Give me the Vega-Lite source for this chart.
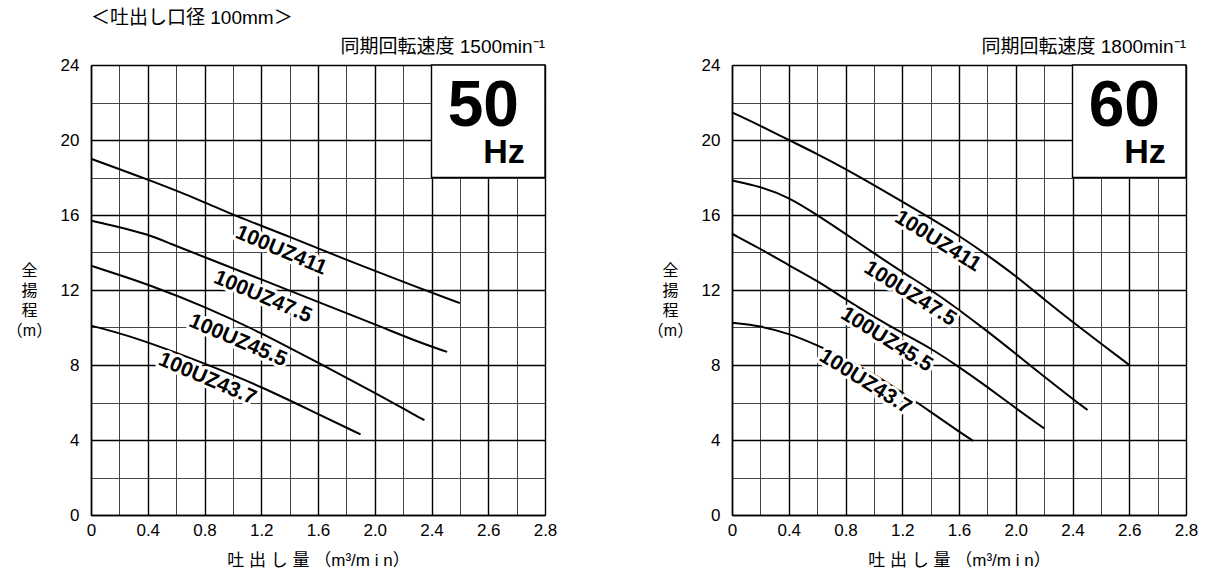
{
  "$schema": "https://vega.github.io/schema/vega-lite/v6.json",
  "background": "white",
  "padding": {"left": 6, "top": 9, "right": 5, "bottom": 5},
  "title": {"text": "＜吐出し口径  100mm＞", "anchor": "start", "frame": "group", "fontSize": 19, "fontWeight": "normal", "font": "Liberation Sans, Noto Sans CJK JP", "color": "black", "offset": 10},
  "spacing": 187,
  "bounds": "flush",
  "datasets": {
    "curves50": [
      {"model": "100UZ411", "q": 0, "h": 19.0}, {"model": "100UZ411", "q": 0.4, "h": 17.9}, {"model": "100UZ411", "q": 0.8, "h": 16.7}, {"model": "100UZ411", "q": 1.0, "h": 16.0}, {"model": "100UZ411", "q": 1.4, "h": 14.85}, {"model": "100UZ411", "q": 1.8, "h": 13.6}, {"model": "100UZ411", "q": 2.3, "h": 12.15}, {"model": "100UZ411", "q": 2.5, "h": 11.3},
      {"model": "100UZ47.5", "q": 0, "h": 15.7}, {"model": "100UZ47.5", "q": 0.2, "h": 15.36}, {"model": "100UZ47.5", "q": 0.4, "h": 14.97}, {"model": "100UZ47.5", "q": 0.55, "h": 14.5}, {"model": "100UZ47.5", "q": 0.8, "h": 13.75}, {"model": "100UZ47.5", "q": 1.2, "h": 12.57}, {"model": "100UZ47.5", "q": 1.6, "h": 11.36}, {"model": "100UZ47.5", "q": 2.0, "h": 10.18}, {"model": "100UZ47.5", "q": 2.3, "h": 9.24}, {"model": "100UZ47.5", "q": 2.455, "h": 8.7},
      {"model": "100UZ45.5", "q": 0, "h": 13.3}, {"model": "100UZ45.5", "q": 0.2, "h": 12.8}, {"model": "100UZ45.5", "q": 0.4, "h": 12.3}, {"model": "100UZ45.5", "q": 0.8, "h": 11.13}, {"model": "100UZ45.5", "q": 1.2, "h": 9.72}, {"model": "100UZ45.5", "q": 1.6, "h": 8.12}, {"model": "100UZ45.5", "q": 2.0, "h": 6.53}, {"model": "100UZ45.5", "q": 2.3, "h": 5.26}, {"model": "100UZ45.5", "q": 2.35, "h": 5.06},
      {"model": "100UZ43.7", "q": 0, "h": 10.1}, {"model": "100UZ43.7", "q": 0.2, "h": 9.7}, {"model": "100UZ43.7", "q": 0.4, "h": 9.22}, {"model": "100UZ43.7", "q": 0.8, "h": 8.09}, {"model": "100UZ43.7", "q": 1.2, "h": 6.85}, {"model": "100UZ43.7", "q": 1.6, "h": 5.38}, {"model": "100UZ43.7", "q": 1.9, "h": 4.3}
    ],
    "curves60": [
      {"model": "100UZ411", "q": 0, "h": 21.47}, {"model": "100UZ411", "q": 0.2, "h": 20.76}, {"model": "100UZ411", "q": 0.4, "h": 20.0}, {"model": "100UZ411", "q": 0.6, "h": 19.26}, {"model": "100UZ411", "q": 0.8, "h": 18.46}, {"model": "100UZ411", "q": 1.0, "h": 17.6}, {"model": "100UZ411", "q": 1.2, "h": 16.72}, {"model": "100UZ411", "q": 1.4, "h": 15.82}, {"model": "100UZ411", "q": 1.6, "h": 14.9}, {"model": "100UZ411", "q": 1.8, "h": 13.86}, {"model": "100UZ411", "q": 2.0, "h": 12.76}, {"model": "100UZ411", "q": 2.2, "h": 11.5}, {"model": "100UZ411", "q": 2.4, "h": 10.3}, {"model": "100UZ411", "q": 2.5, "h": 9.15}, {"model": "100UZ411", "q": 2.6, "h": 8.0},
      {"model": "100UZ47.5", "q": 0, "h": 17.84}, {"model": "100UZ47.5", "q": 0.2, "h": 17.52}, {"model": "100UZ47.5", "q": 0.4, "h": 16.95}, {"model": "100UZ47.5", "q": 0.6, "h": 16.0}, {"model": "100UZ47.5", "q": 0.8, "h": 15.0}, {"model": "100UZ47.5", "q": 1.0, "h": 13.96}, {"model": "100UZ47.5", "q": 1.2, "h": 12.96}, {"model": "100UZ47.5", "q": 1.4, "h": 12.02}, {"model": "100UZ47.5", "q": 1.6, "h": 10.95}, {"model": "100UZ47.5", "q": 1.8, "h": 9.8}, {"model": "100UZ47.5", "q": 2.0, "h": 8.6}, {"model": "100UZ47.5", "q": 2.2, "h": 7.38}, {"model": "100UZ47.5", "q": 2.4, "h": 6.2}, {"model": "100UZ47.5", "q": 2.453, "h": 5.6},
      {"model": "100UZ45.5", "q": 0, "h": 15.0}, {"model": "100UZ45.5", "q": 0.2, "h": 14.2}, {"model": "100UZ45.5", "q": 0.4, "h": 13.32}, {"model": "100UZ45.5", "q": 0.6, "h": 12.5}, {"model": "100UZ45.5", "q": 0.8, "h": 11.5}, {"model": "100UZ45.5", "q": 1.0, "h": 10.57}, {"model": "100UZ45.5", "q": 1.2, "h": 9.7}, {"model": "100UZ45.5", "q": 1.4, "h": 8.9}, {"model": "100UZ45.5", "q": 1.6, "h": 7.9}, {"model": "100UZ45.5", "q": 1.8, "h": 6.83}, {"model": "100UZ45.5", "q": 2.0, "h": 5.7}, {"model": "100UZ45.5", "q": 2.2, "h": 4.62},
      {"model": "100UZ43.7", "q": 0, "h": 10.25}, {"model": "100UZ43.7", "q": 0.2, "h": 10.09}, {"model": "100UZ43.7", "q": 0.4, "h": 9.68}, {"model": "100UZ43.7", "q": 0.6, "h": 9.06}, {"model": "100UZ43.7", "q": 0.8, "h": 8.35}, {"model": "100UZ43.7", "q": 1.0, "h": 7.5}, {"model": "100UZ43.7", "q": 1.2, "h": 6.55}, {"model": "100UZ43.7", "q": 1.4, "h": 5.5}, {"model": "100UZ43.7", "q": 1.6, "h": 4.45}, {"model": "100UZ43.7", "q": 1.7, "h": 3.95}
    ],
    "labels50": [
      {"model": "100UZ411", "q": 1.34, "h": 14.1}, {"model": "100UZ47.5", "q": 1.21, "h": 11.63}, {"model": "100UZ45.5", "q": 1.035, "h": 9.3}, {"model": "100UZ43.7", "q": 0.82, "h": 7.25}
    ],
    "labels60": [
      {"model": "100UZ411", "q": 1.45, "h": 14.6}, {"model": "100UZ47.5", "q": 1.255, "h": 11.8}, {"model": "100UZ45.5", "q": 1.09, "h": 9.35}, {"model": "100UZ43.7", "q": 0.94, "h": 7.1}
    ],
    "box": [{"q": 2.4, "q2": 2.8, "h": 18, "h2": 24}]
  },
  "hconcat": [
    {
      "width": 454, "height": 450,
      "title": {"text": "同期回転速度 1500min⁻¹", "anchor": "end", "frame": "group", "fontSize": 19, "fontWeight": "normal", "offset": -1},
      "encoding": {
        "x": {"field": "q", "type": "quantitative", "scale": {"domain": [0, 2.4, 2.8], "range": [0, 340.5, 454], "nice": false, "zero": false}, "axis": {"title": "吐 出 し 量 （m³/m i n）", "values": [0, 0.2, 0.4, 0.6, 0.8, 1, 1.2, 1.4, 1.6, 1.8, 2, 2.2, 2.4, 2.5, 2.6, 2.7, 2.8], "labelExpr": "(datum.value <= 2.4 ? round(datum.value*10) % 4 == 0 : round(datum.value*10) % 2 == 0) ? (datum.value == 0 ? '0' : format(datum.value, '.1f')) : ''", "gridColor": {"condition": {"test": "datum.value <= 2.4 ? round(datum.value*10) % 4 == 0 : round(datum.value*10) % 2 == 0", "value": "#000000"}, "value": "#444444"}, "gridWidth": {"condition": {"test": "datum.value <= 2.4 ? round(datum.value*10) % 4 == 0 : round(datum.value*10) % 2 == 0", "value": 1.4}, "value": 1}}},
        "y": {"field": "h", "type": "quantitative", "scale": {"domain": [0, 24], "nice": false}, "axis": {"title": ["全", "揚", "程", "（m）"], "titleAngle": 0, "titleAlign": "center", "titleBaseline": "top", "titleX": -62, "titleY": 197, "titleLineHeight": 20, "values": [0, 2, 4, 6, 8, 10, 12, 14, 16, 18, 20, 22, 24], "labelExpr": "datum.value % 4 == 0 ? datum.label : ''", "gridColor": {"condition": {"test": "datum.value % 4 == 0", "value": "#000000"}, "value": "#444444"}, "gridWidth": {"condition": {"test": "datum.value % 4 == 0", "value": 1.4}, "value": 1}}}
      },
      "layer": [
        {"data": {"name": "box"}, "mark": {"type": "rect", "fill": "white", "stroke": "black", "strokeWidth": 1.4}, "encoding": {"x2": {"field": "q2"}, "y2": {"field": "h2"}}},
        {"data": {"name": "curves50"}, "mark": {"type": "line", "color": "black", "strokeWidth": 2, "interpolate": "basis"}, "encoding": {"detail": {"field": "model", "type": "nominal"}}},
        {"data": {"name": "labels50"}, "mark": {"type": "text", "angle": 23, "fontSize": 21, "fontWeight": "bold", "font": "Liberation Sans", "fill": "white", "stroke": "white", "strokeWidth": 6, "strokeJoin": "round", "align": "center", "baseline": "middle"}, "encoding": {"text": {"field": "model"}}},
        {"data": {"name": "labels50"}, "mark": {"type": "text", "angle": 23, "fontSize": 21, "fontWeight": "bold", "font": "Liberation Sans", "color": "black", "align": "center", "baseline": "middle"}, "encoding": {"text": {"field": "model"}}},
        {"data": {"values": [{"label": "50", "q": 2.708, "h": 20.76}]}, "mark": {"type": "text", "fontSize": 64, "fontWeight": "bold", "font": "Liberation Sans", "color": "black", "align": "right", "baseline": "alphabetic"}, "encoding": {"text": {"field": "label"}}},
        {"data": {"values": [{"label": "Hz", "q": 2.729, "h": 18.76}]}, "mark": {"type": "text", "fontSize": 34, "fontWeight": "bold", "font": "Liberation Sans", "color": "black", "align": "right", "baseline": "alphabetic"}, "encoding": {"text": {"field": "label"}}}
      ]
    },
    {
      "width": 454, "height": 450,
      "title": {"text": "同期回転速度 1800min⁻¹", "anchor": "end", "frame": "group", "fontSize": 19, "fontWeight": "normal", "offset": -1},
      "encoding": {
        "x": {"field": "q", "type": "quantitative", "scale": {"domain": [0, 2.4, 2.8], "range": [0, 340.5, 454], "nice": false, "zero": false}, "axis": {"title": "吐 出 し 量 （m³/m i n）", "values": [0, 0.2, 0.4, 0.6, 0.8, 1, 1.2, 1.4, 1.6, 1.8, 2, 2.2, 2.4, 2.5, 2.6, 2.7, 2.8], "labelExpr": "(datum.value <= 2.4 ? round(datum.value*10) % 4 == 0 : round(datum.value*10) % 2 == 0) ? (datum.value == 0 ? '0' : format(datum.value, '.1f')) : ''", "gridColor": {"condition": {"test": "datum.value <= 2.4 ? round(datum.value*10) % 4 == 0 : round(datum.value*10) % 2 == 0", "value": "#000000"}, "value": "#444444"}, "gridWidth": {"condition": {"test": "datum.value <= 2.4 ? round(datum.value*10) % 4 == 0 : round(datum.value*10) % 2 == 0", "value": 1.4}, "value": 1}}},
        "y": {"field": "h", "type": "quantitative", "scale": {"domain": [0, 24], "nice": false}, "axis": {"title": ["全", "揚", "程", "（m）"], "titleAngle": 0, "titleAlign": "center", "titleBaseline": "top", "titleX": -62, "titleY": 197, "titleLineHeight": 20, "values": [0, 2, 4, 6, 8, 10, 12, 14, 16, 18, 20, 22, 24], "labelExpr": "datum.value % 4 == 0 ? datum.label : ''", "gridColor": {"condition": {"test": "datum.value % 4 == 0", "value": "#000000"}, "value": "#444444"}, "gridWidth": {"condition": {"test": "datum.value % 4 == 0", "value": 1.4}, "value": 1}}}
      },
      "layer": [
        {"data": {"name": "box"}, "mark": {"type": "rect", "fill": "white", "stroke": "black", "strokeWidth": 1.4}, "encoding": {"x2": {"field": "q2"}, "y2": {"field": "h2"}}},
        {"data": {"name": "curves60"}, "mark": {"type": "line", "color": "black", "strokeWidth": 2, "interpolate": "basis"}, "encoding": {"detail": {"field": "model", "type": "nominal"}}},
        {"data": {"name": "labels60"}, "mark": {"type": "text", "angle": 32, "fontSize": 21, "fontWeight": "bold", "font": "Liberation Sans", "fill": "white", "stroke": "white", "strokeWidth": 6, "strokeJoin": "round", "align": "center", "baseline": "middle"}, "encoding": {"text": {"field": "model"}}},
        {"data": {"name": "labels60"}, "mark": {"type": "text", "angle": 32, "fontSize": 21, "fontWeight": "bold", "font": "Liberation Sans", "color": "black", "align": "center", "baseline": "middle"}, "encoding": {"text": {"field": "model"}}},
        {"data": {"values": [{"label": "60", "q": 2.708, "h": 20.76}]}, "mark": {"type": "text", "fontSize": 64, "fontWeight": "bold", "font": "Liberation Sans", "color": "black", "align": "right", "baseline": "alphabetic"}, "encoding": {"text": {"field": "label"}}},
        {"data": {"values": [{"label": "Hz", "q": 2.729, "h": 18.76}]}, "mark": {"type": "text", "fontSize": 34, "fontWeight": "bold", "font": "Liberation Sans", "color": "black", "align": "right", "baseline": "alphabetic"}, "encoding": {"text": {"field": "label"}}}
      ]
    }
  ],
  "config": {
    "font": "Liberation Sans, Noto Sans CJK JP",
    "view": {"stroke": null},
    "title": {"color": "black", "font": "Liberation Sans, Noto Sans CJK JP"},
    "axis": {
      "domain": true, "domainColor": "black", "domainWidth": 1.5,
      "ticks": false, "tickSize": 0,
      "labelFont": "Liberation Sans", "labelFontSize": 17, "labelColor": "black",
      "labelOverlap": false, "labelFlush": false, "labelBound": false,
      "titleFont": "Liberation Sans, Noto Sans CJK JP", "titleFontSize": 17, "titleFontWeight": "normal", "titleColor": "black",
      "grid": true
    },
    "axisX": {"labelPadding": 7, "titlePadding": 14},
    "axisY": {"labelPadding": 12, "titleFontSize": 16},
    "text": {"font": "Liberation Sans"}
  }
}
